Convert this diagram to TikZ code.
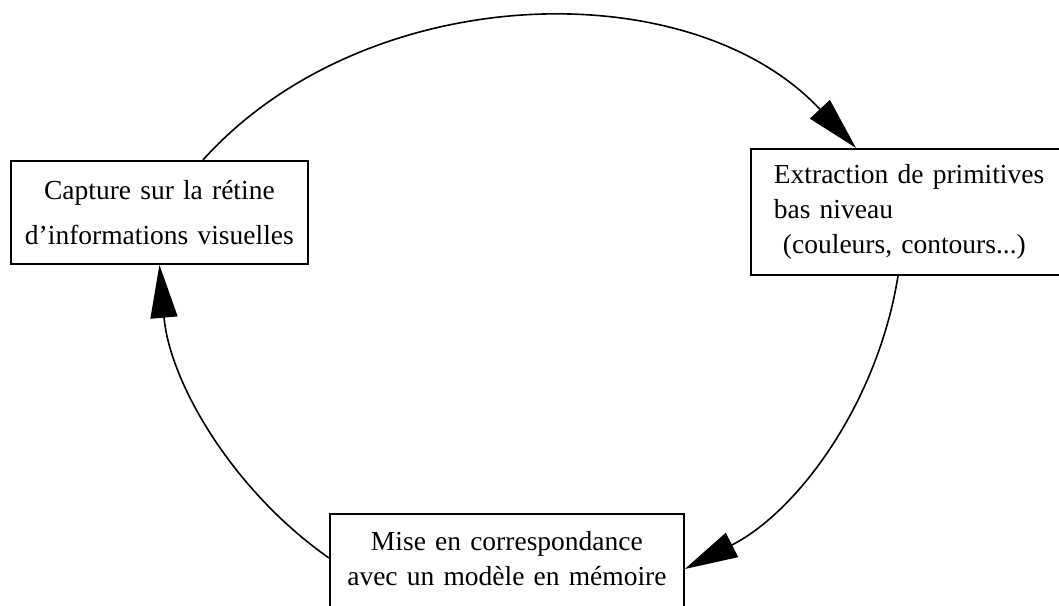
\documentclass[tikz,border=0pt]{standalone}
\usepackage{fontspec}
\setmainfont[WordSpace=0.85]{Liberation Serif}
\usetikzlibrary{arrows.meta}
\begin{document}
\begin{tikzpicture}[x=1pt,y=1pt,
  box/.style={draw, line width=1.8pt, rectangle, inner xsep=0pt, inner ysep=0pt,
    anchor=north west, font=\fontsize{27.5}{35}\selectfont},
  link/.style={line width=1.6pt, -{Triangle[length=53pt,width=27pt]}}]
\useasboundingbox (0,0) rectangle (1059,-605);
\clip (0,0) rectangle (1059,-605);
\fill[white] (0,0) rectangle (1059,-605);

\node[box, text width=297pt, minimum height=103pt, align=center,
      font=\fontsize{27.5}{45}\selectfont] (cap) at (10,-160)
  {Capture sur la rétine\\d’informations visuelles};
\node[box, text width=284pt, inner xsep=23pt, minimum height=126pt, align=left] (ext) at (750,-148)
  {Extraction de primitives\\bas niveau\\\hspace*{0.33em}(couleurs, contours...)};
\node[box, text width=354pt, minimum height=110pt, align=center] (mat) at (329,-513)
  {Mise en correspondance\\avec un modèle en mémoire\rule[-21pt]{0pt}{0pt}};

\draw[link] ([xshift=43.5pt]cap.north) to[out=48,in=133,looseness=0.95] ([xshift=106pt]ext.north west);
\draw[link] ([xshift=148pt]ext.south west) to[out=261,in=27,looseness=0.9] ([yshift=-56pt]mat.north east);
\draw[link] ([yshift=-45pt]mat.north west) to[out=145,in=275,looseness=0.89] (cap.south);
\end{tikzpicture}
\end{document}
